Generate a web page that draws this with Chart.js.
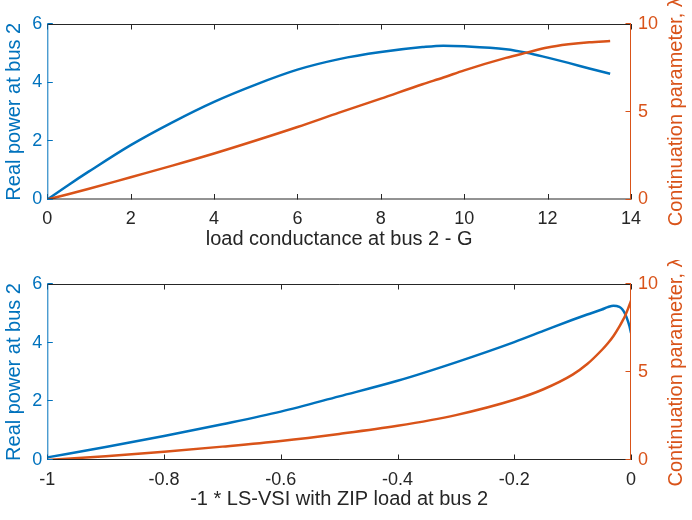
<!DOCTYPE html>
<html>
<head>
<meta charset="utf-8">
<script src="https://cdn.jsdelivr.net/npm/chart.js@4.4.1/dist/chart.umd.min.js"></script>
<style>
  html, body { margin: 0; padding: 0; background: #fff; }
  canvas { display: block; }
</style>
</head>
<body>
<canvas id="topPanel" width="692" height="260"></canvas>
<canvas id="bottomPanel" width="692" height="260"></canvas>
<script>
const FONT = "'Liberation Sans', Arial, Helvetica, sans-serif";
const BLUE = '#0072BD';
const ORANGE = '#D95319';
const DARK = '#262626';

// top panel: sweep over load conductance G
const gValues = [0, 0.5, 1, 2, 3, 4, 5, 6, 7, 8, 9, 9.5, 10, 11, 11.5, 12, 12.5, 13, 13.5];
const gPower  = [0, 0.49, 0.96, 1.86, 2.64, 3.34, 3.93, 4.44, 4.80, 5.04, 5.21, 5.26, 5.24, 5.14, 5.02, 4.85, 4.67, 4.48, 4.30];
const gLambda = [0, 0.30, 0.61, 1.27, 1.93, 2.62, 3.36, 4.13, 4.95, 5.75, 6.57, 6.95, 7.36, 8.07, 8.37, 8.66, 8.84, 8.96, 9.03];

// bottom panel: same points against -1 * LS-VSI
const vsiValues = [-1, -0.9, -0.8, -0.7, -0.6, -0.5, -0.4, -0.3, -0.2, -0.15, -0.1, -0.075, -0.05, -0.04, -0.03, -0.02, -0.015, -0.01, -0.005, -0.0025, 0];
const vsiPower  = [0.09, 0.44, 0.82, 1.22, 1.65, 2.17, 2.70, 3.33, 4.02, 4.40, 4.78, 4.96, 5.13, 5.21, 5.26, 5.22, 5.14, 4.98, 4.72, 4.55, 4.33];
const vsiLambda = [0, 0.22, 0.47, 0.76, 1.08, 1.48, 1.94, 2.55, 3.42, 4.02, 4.85, 5.45, 6.25, 6.62, 7.05, 7.58, 7.88, 8.20, 8.60, 8.82, 9.05];

const leftTitle = 'Real power at bus 2';
const rightTitle = 'Continuation parameter, \u03bb';
const xTitleTop = 'load conductance at bus 2 - G';
const xTitleBottom = '-1 * LS-VSI with ZIP load at bus 2';

const TICK_LEN = 5.5;

// matlab-like box: inward ticks, coloured y axes, right label reading upwards
const framePlugin = {
  id: 'frame',
  afterDraw(chart) {
    const { ctx, chartArea: a, scales } = chart;
    ctx.save();
    ctx.lineWidth = 1;

    ctx.strokeStyle = DARK;
    ctx.beginPath();
    ctx.moveTo(a.left, a.top + 0.5); ctx.lineTo(a.right, a.top + 0.5);
    ctx.moveTo(a.left, a.bottom - 0.5); ctx.lineTo(a.right, a.bottom - 0.5);
    scales.x.ticks.forEach(t => {
      const px = Math.round(scales.x.getPixelForValue(t.value)) + 0.5;
      ctx.moveTo(px, a.bottom); ctx.lineTo(px, a.bottom - TICK_LEN);
      ctx.moveTo(px, a.top); ctx.lineTo(px, a.top + TICK_LEN);
    });
    ctx.stroke();

    ctx.strokeStyle = BLUE;
    ctx.beginPath();
    ctx.moveTo(a.left + 0.5, a.top); ctx.lineTo(a.left + 0.5, a.bottom);
    scales.y.ticks.forEach(t => {
      const py = Math.round(scales.y.getPixelForValue(t.value)) - 0.5;
      ctx.moveTo(a.left, py); ctx.lineTo(a.left + TICK_LEN, py);
    });
    ctx.stroke();

    ctx.strokeStyle = ORANGE;
    ctx.beginPath();
    ctx.moveTo(a.right - 0.5, a.top); ctx.lineTo(a.right - 0.5, a.bottom);
    scales.y1.ticks.forEach(t => {
      const py = Math.round(scales.y1.getPixelForValue(t.value)) - 0.5;
      ctx.moveTo(a.right, py); ctx.lineTo(a.right - TICK_LEN, py);
    });
    ctx.stroke();

    ctx.translate(676, (a.top + a.bottom) / 2);
    ctx.rotate(-Math.PI / 2);
    ctx.fillStyle = ORANGE;
    ctx.font = '20px ' + FONT;
    ctx.textAlign = 'center';
    ctx.textBaseline = 'middle';
    ctx.fillText(rightTitle, 0, 0);
    ctx.restore();
  }
};

function fmt(v) {
  return String(Number(v.toFixed(2)));
}

function makePanel(id, xs, power, lambda, xMin, xMax, xStep, xTitle, xHeight) {
  const ctx = document.getElementById(id).getContext('2d');
  return new Chart(ctx, {
    type: 'line',
    data: {
      datasets: [
        {
          label: 'P',
          data: xs.map((x, i) => ({ x: x, y: power[i] })),
          yAxisID: 'y',
          borderColor: BLUE,
          borderWidth: 2.5,
          pointRadius: 0,
          cubicInterpolationMode: 'monotone',
          order: 2
        },
        {
          label: 'lambda',
          data: xs.map((x, i) => ({ x: x, y: lambda[i] })),
          yAxisID: 'y1',
          borderColor: ORANGE,
          borderWidth: 2.5,
          pointRadius: 0,
          cubicInterpolationMode: 'monotone',
          order: 1
        }
      ]
    },
    options: {
      responsive: false,
      animation: false,
      devicePixelRatio: 1,
      layout: { padding: { top: 24, left: 0, right: 0, bottom: 0 } },
      scales: {
        x: {
          type: 'linear',
          min: xMin,
          max: xMax,
          grid: { display: false, drawTicks: false },
          border: { display: false },
          ticks: {
            stepSize: xStep,
            color: DARK,
            padding: 9,
            maxRotation: 0,
            font: { family: FONT, size: 18 },
            callback: v => fmt(v)
          },
          title: {
            display: true,
            text: xTitle,
            color: DARK,
            font: { family: FONT, size: 20 },
            padding: { top: 0, bottom: 9 }
          },
          afterFit: s => { s.height = xHeight; }
        },
        y: {
          position: 'left',
          min: 0,
          max: 6,
          grid: { display: false, drawTicks: false },
          border: { display: false },
          ticks: {
            stepSize: 2,
            color: BLUE,
            padding: 5,
            font: { family: FONT, size: 18 }
          },
          title: {
            display: true,
            text: leftTitle,
            color: BLUE,
            font: { family: FONT, size: 20 },
            padding: { top: 2, bottom: 0 }
          },
          afterFit: s => { s.width = 47.3; }
        },
        y1: {
          position: 'right',
          min: 0,
          max: 10,
          grid: { display: false, drawTicks: false },
          border: { display: false },
          ticks: {
            stepSize: 5,
            color: ORANGE,
            padding: 7,
            font: { family: FONT, size: 18 }
          },
          afterFit: s => { s.width = 61; }
        }
      },
      plugins: {
        legend: { display: false },
        tooltip: { enabled: false }
      }
    },
    plugins: [framePlugin]
  });
}

makePanel('topPanel', gValues, gPower, gLambda, 0, 14, 2, xTitleTop, 60.5);
makePanel('bottomPanel', vsiValues, vsiPower, vsiLambda, -1, 0, 0.2, xTitleBottom, 60);
</script>
</body>
</html>
